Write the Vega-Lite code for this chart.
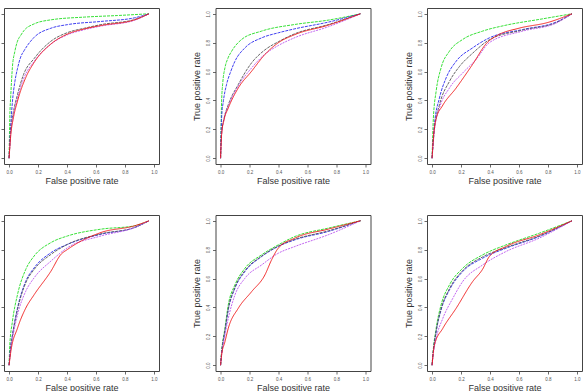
{
 "$schema": "https://vega.github.io/schema/vega-lite/v6.json",
 "padding": {"left": -20, "top": 7, "right": 0, "bottom": 0},
 "autosize": {"type": "pad"},
 "background": "white",
 "data": {"values": [
  {"p":1,"s":"g","x":0,"y":0},{"p":1,"s":"g","x":0.005,"y":0.28},{"p":1,"s":"g","x":0.012,"y":0.44},{"p":1,"s":"g","x":0.023,"y":0.63},{"p":1,"s":"g","x":0.04,"y":0.74},{"p":1,"s":"g","x":0.058,"y":0.81},{"p":1,"s":"g","x":0.08,"y":0.85},{"p":1,"s":"g","x":0.104,"y":0.885},{"p":1,"s":"g","x":0.173,"y":0.93},{"p":1,"s":"g","x":0.289,"y":0.958},{"p":1,"s":"g","x":0.52,"y":0.977},{"p":1,"s":"g","x":0.75,"y":0.988},{"p":1,"s":"g","x":0.966,"y":1},
  {"p":1,"s":"b","x":0,"y":0},{"p":1,"s":"b","x":0.01,"y":0.2},{"p":1,"s":"b","x":0.023,"y":0.39},{"p":1,"s":"b","x":0.04,"y":0.53},{"p":1,"s":"b","x":0.058,"y":0.62},{"p":1,"s":"b","x":0.08,"y":0.7},{"p":1,"s":"b","x":0.104,"y":0.745},{"p":1,"s":"b","x":0.173,"y":0.837},{"p":1,"s":"b","x":0.289,"y":0.9},{"p":1,"s":"b","x":0.404,"y":0.925},{"p":1,"s":"b","x":0.635,"y":0.947},{"p":1,"s":"b","x":0.866,"y":0.972},{"p":1,"s":"b","x":0.966,"y":1},
  {"p":1,"s":"k","x":0,"y":0},{"p":1,"s":"k","x":0.012,"y":0.2},{"p":1,"s":"k","x":0.03,"y":0.32},{"p":1,"s":"k","x":0.058,"y":0.44},{"p":1,"s":"k","x":0.1,"y":0.58},{"p":1,"s":"k","x":0.173,"y":0.69},{"p":1,"s":"k","x":0.289,"y":0.81},{"p":1,"s":"k","x":0.404,"y":0.87},{"p":1,"s":"k","x":0.52,"y":0.9},{"p":1,"s":"k","x":0.635,"y":0.925},{"p":1,"s":"k","x":0.866,"y":0.96},{"p":1,"s":"k","x":0.966,"y":1},
  {"p":1,"s":"v","x":0,"y":0},{"p":1,"s":"v","x":0.012,"y":0.18},{"p":1,"s":"v","x":0.03,"y":0.3},{"p":1,"s":"v","x":0.058,"y":0.415},{"p":1,"s":"v","x":0.1,"y":0.55},{"p":1,"s":"v","x":0.173,"y":0.67},{"p":1,"s":"v","x":0.289,"y":0.79},{"p":1,"s":"v","x":0.404,"y":0.855},{"p":1,"s":"v","x":0.52,"y":0.89},{"p":1,"s":"v","x":0.635,"y":0.915},{"p":1,"s":"v","x":0.866,"y":0.955},{"p":1,"s":"v","x":0.966,"y":1},
  {"p":1,"s":"r","x":0,"y":0},{"p":1,"s":"r","x":0.012,"y":0.163},{"p":1,"s":"r","x":0.03,"y":0.28},{"p":1,"s":"r","x":0.058,"y":0.395},{"p":1,"s":"r","x":0.115,"y":0.558},{"p":1,"s":"r","x":0.173,"y":0.663},{"p":1,"s":"r","x":0.289,"y":0.791},{"p":1,"s":"r","x":0.404,"y":0.86},{"p":1,"s":"r","x":0.52,"y":0.895},{"p":1,"s":"r","x":0.635,"y":0.919},{"p":1,"s":"r","x":0.866,"y":0.958},{"p":1,"s":"r","x":0.966,"y":1},

  {"p":2,"s":"g","x":0,"y":0},{"p":2,"s":"g","x":0.007,"y":0.39},{"p":2,"s":"g","x":0.015,"y":0.52},{"p":2,"s":"g","x":0.03,"y":0.625},{"p":2,"s":"g","x":0.05,"y":0.69},{"p":2,"s":"g","x":0.076,"y":0.74},{"p":2,"s":"g","x":0.145,"y":0.822},{"p":2,"s":"g","x":0.283,"y":0.88},{"p":2,"s":"g","x":0.513,"y":0.926},{"p":2,"s":"g","x":0.743,"y":0.956},{"p":2,"s":"g","x":0.966,"y":1},
  {"p":2,"s":"b","x":0,"y":0},{"p":2,"s":"b","x":0.007,"y":0.278},{"p":2,"s":"b","x":0.02,"y":0.4},{"p":2,"s":"b","x":0.041,"y":0.509},{"p":2,"s":"b","x":0.07,"y":0.6},{"p":2,"s":"b","x":0.099,"y":0.671},{"p":2,"s":"b","x":0.168,"y":0.764},{"p":2,"s":"b","x":0.283,"y":0.833},{"p":2,"s":"b","x":0.398,"y":0.868},{"p":2,"s":"b","x":0.513,"y":0.896},{"p":2,"s":"b","x":0.743,"y":0.942},{"p":2,"s":"b","x":0.966,"y":1},
  {"p":2,"s":"k","x":0,"y":0},{"p":2,"s":"k","x":0.007,"y":0.17},{"p":2,"s":"k","x":0.025,"y":0.28},{"p":2,"s":"k","x":0.053,"y":0.37},{"p":2,"s":"k","x":0.122,"y":0.51},{"p":2,"s":"k","x":0.214,"y":0.66},{"p":2,"s":"k","x":0.306,"y":0.75},{"p":2,"s":"k","x":0.398,"y":0.806},{"p":2,"s":"k","x":0.513,"y":0.862},{"p":2,"s":"k","x":0.743,"y":0.925},{"p":2,"s":"k","x":0.966,"y":1},
  {"p":2,"s":"v","x":0,"y":0},{"p":2,"s":"v","x":0.007,"y":0.165},{"p":2,"s":"v","x":0.025,"y":0.275},{"p":2,"s":"v","x":0.053,"y":0.36},{"p":2,"s":"v","x":0.122,"y":0.5},{"p":2,"s":"v","x":0.214,"y":0.625},{"p":2,"s":"v","x":0.306,"y":0.72},{"p":2,"s":"v","x":0.398,"y":0.78},{"p":2,"s":"v","x":0.513,"y":0.835},{"p":2,"s":"v","x":0.743,"y":0.91},{"p":2,"s":"v","x":0.966,"y":1},
  {"p":2,"s":"r","x":0,"y":0},{"p":2,"s":"r","x":0.007,"y":0.162},{"p":2,"s":"r","x":0.025,"y":0.27},{"p":2,"s":"r","x":0.053,"y":0.347},{"p":2,"s":"r","x":0.122,"y":0.486},{"p":2,"s":"r","x":0.214,"y":0.602},{"p":2,"s":"r","x":0.306,"y":0.718},{"p":2,"s":"r","x":0.398,"y":0.799},{"p":2,"s":"r","x":0.513,"y":0.856},{"p":2,"s":"r","x":0.743,"y":0.921},{"p":2,"s":"r","x":0.966,"y":1},

  {"p":3,"s":"g","x":0,"y":0},{"p":3,"s":"g","x":0.009,"y":0.278},{"p":3,"s":"g","x":0.028,"y":0.463},{"p":3,"s":"g","x":0.062,"y":0.625},{"p":3,"s":"g","x":0.12,"y":0.741},{"p":3,"s":"g","x":0.211,"y":0.822},{"p":3,"s":"g","x":0.349,"y":0.88},{"p":3,"s":"g","x":0.51,"y":0.921},{"p":3,"s":"g","x":0.74,"y":0.961},{"p":3,"s":"g","x":0.966,"y":1},
  {"p":3,"s":"b","x":0,"y":0},{"p":3,"s":"b","x":0.016,"y":0.231},{"p":3,"s":"b","x":0.051,"y":0.417},{"p":3,"s":"b","x":0.097,"y":0.556},{"p":3,"s":"b","x":0.166,"y":0.671},{"p":3,"s":"b","x":0.28,"y":0.764},{"p":3,"s":"b","x":0.395,"y":0.833},{"p":3,"s":"b","x":0.625,"y":0.891},{"p":3,"s":"b","x":0.855,"y":0.942},{"p":3,"s":"b","x":0.966,"y":1},
  {"p":3,"s":"k","x":0,"y":0},{"p":3,"s":"k","x":0.016,"y":0.2},{"p":3,"s":"k","x":0.051,"y":0.37},{"p":3,"s":"k","x":0.12,"y":0.532},{"p":3,"s":"k","x":0.189,"y":0.635},{"p":3,"s":"k","x":0.28,"y":0.727},{"p":3,"s":"k","x":0.395,"y":0.82},{"p":3,"s":"k","x":0.625,"y":0.887},{"p":3,"s":"k","x":0.855,"y":0.938},{"p":3,"s":"k","x":0.966,"y":1},
  {"p":3,"s":"v","x":0,"y":0},{"p":3,"s":"v","x":0.016,"y":0.19},{"p":3,"s":"v","x":0.051,"y":0.347},{"p":3,"s":"v","x":0.12,"y":0.486},{"p":3,"s":"v","x":0.211,"y":0.59},{"p":3,"s":"v","x":0.303,"y":0.683},{"p":3,"s":"v","x":0.395,"y":0.8},{"p":3,"s":"v","x":0.625,"y":0.88},{"p":3,"s":"v","x":0.855,"y":0.935},{"p":3,"s":"v","x":0.966,"y":1},
  {"p":3,"s":"r","x":0,"y":0},{"p":3,"s":"r","x":0.01,"y":0.15},{"p":3,"s":"r","x":0.03,"y":0.28},{"p":3,"s":"r","x":0.07,"y":0.36},{"p":3,"s":"r","x":0.166,"y":0.486},{"p":3,"s":"r","x":0.28,"y":0.65},{"p":3,"s":"r","x":0.38,"y":0.8},{"p":3,"s":"r","x":0.45,"y":0.85},{"p":3,"s":"r","x":0.6,"y":0.9},{"p":3,"s":"r","x":0.8,"y":0.94},{"p":3,"s":"r","x":0.966,"y":1},

  {"p":4,"s":"g","x":0,"y":0},{"p":4,"s":"g","x":0.005,"y":0.14},{"p":4,"s":"g","x":0.023,"y":0.302},{"p":4,"s":"g","x":0.058,"y":0.488},{"p":4,"s":"g","x":0.115,"y":0.663},{"p":4,"s":"g","x":0.173,"y":0.756},{"p":4,"s":"g","x":0.289,"y":0.849},{"p":4,"s":"g","x":0.404,"y":0.895},{"p":4,"s":"g","x":0.635,"y":0.942},{"p":4,"s":"g","x":0.866,"y":0.965},{"p":4,"s":"g","x":0.966,"y":1},
  {"p":4,"s":"b","x":0,"y":0},{"p":4,"s":"b","x":0.01,"y":0.12},{"p":4,"s":"b","x":0.023,"y":0.209},{"p":4,"s":"b","x":0.058,"y":0.395},{"p":4,"s":"b","x":0.115,"y":0.581},{"p":4,"s":"b","x":0.173,"y":0.674},{"p":4,"s":"b","x":0.289,"y":0.779},{"p":4,"s":"b","x":0.404,"y":0.837},{"p":4,"s":"b","x":0.635,"y":0.907},{"p":4,"s":"b","x":0.866,"y":0.953},{"p":4,"s":"b","x":0.966,"y":1},
  {"p":4,"s":"k","x":0,"y":0},{"p":4,"s":"k","x":0.01,"y":0.11},{"p":4,"s":"k","x":0.023,"y":0.2},{"p":4,"s":"k","x":0.058,"y":0.384},{"p":4,"s":"k","x":0.115,"y":0.57},{"p":4,"s":"k","x":0.173,"y":0.663},{"p":4,"s":"k","x":0.289,"y":0.767},{"p":4,"s":"k","x":0.404,"y":0.837},{"p":4,"s":"k","x":0.635,"y":0.91},{"p":4,"s":"k","x":0.866,"y":0.953},{"p":4,"s":"k","x":0.966,"y":1},
  {"p":4,"s":"v","x":0,"y":0},{"p":4,"s":"v","x":0.01,"y":0.1},{"p":4,"s":"v","x":0.023,"y":0.18},{"p":4,"s":"v","x":0.058,"y":0.349},{"p":4,"s":"v","x":0.115,"y":0.512},{"p":4,"s":"v","x":0.173,"y":0.605},{"p":4,"s":"v","x":0.289,"y":0.721},{"p":4,"s":"v","x":0.404,"y":0.814},{"p":4,"s":"v","x":0.635,"y":0.895},{"p":4,"s":"v","x":0.866,"y":0.953},{"p":4,"s":"v","x":0.966,"y":1},
  {"p":4,"s":"r","x":0,"y":0},{"p":4,"s":"r","x":0.012,"y":0.093},{"p":4,"s":"r","x":0.058,"y":0.256},{"p":4,"s":"r","x":0.115,"y":0.395},{"p":4,"s":"r","x":0.173,"y":0.488},{"p":4,"s":"r","x":0.289,"y":0.651},{"p":4,"s":"r","x":0.358,"y":0.767},{"p":4,"s":"r","x":0.404,"y":0.802},{"p":4,"s":"r","x":0.635,"y":0.919},{"p":4,"s":"r","x":0.866,"y":0.965},{"p":4,"s":"r","x":0.966,"y":1},

  {"p":5,"s":"g","x":0,"y":0},{"p":5,"s":"g","x":0.007,"y":0.093},{"p":5,"s":"g","x":0.03,"y":0.255},{"p":5,"s":"g","x":0.053,"y":0.417},{"p":5,"s":"g","x":0.099,"y":0.556},{"p":5,"s":"g","x":0.168,"y":0.671},{"p":5,"s":"g","x":0.283,"y":0.764},{"p":5,"s":"g","x":0.398,"y":0.833},{"p":5,"s":"g","x":0.513,"y":0.891},{"p":5,"s":"g","x":0.743,"y":0.949},{"p":5,"s":"g","x":0.966,"y":1},
  {"p":5,"s":"b","x":0,"y":0},{"p":5,"s":"b","x":0.007,"y":0.08},{"p":5,"s":"b","x":0.03,"y":0.231},{"p":5,"s":"b","x":0.053,"y":0.382},{"p":5,"s":"b","x":0.099,"y":0.532},{"p":5,"s":"b","x":0.168,"y":0.648},{"p":5,"s":"b","x":0.283,"y":0.752},{"p":5,"s":"b","x":0.398,"y":0.822},{"p":5,"s":"b","x":0.513,"y":0.868},{"p":5,"s":"b","x":0.743,"y":0.926},{"p":5,"s":"b","x":0.966,"y":1},
  {"p":5,"s":"k","x":0,"y":0},{"p":5,"s":"k","x":0.007,"y":0.085},{"p":5,"s":"k","x":0.03,"y":0.24},{"p":5,"s":"k","x":0.053,"y":0.39},{"p":5,"s":"k","x":0.099,"y":0.54},{"p":5,"s":"k","x":0.168,"y":0.655},{"p":5,"s":"k","x":0.283,"y":0.755},{"p":5,"s":"k","x":0.398,"y":0.825},{"p":5,"s":"k","x":0.513,"y":0.872},{"p":5,"s":"k","x":0.743,"y":0.93},{"p":5,"s":"k","x":0.966,"y":1},
  {"p":5,"s":"v","x":0,"y":0},{"p":5,"s":"v","x":0.007,"y":0.07},{"p":5,"s":"v","x":0.03,"y":0.209},{"p":5,"s":"v","x":0.053,"y":0.324},{"p":5,"s":"v","x":0.099,"y":0.486},{"p":5,"s":"v","x":0.168,"y":0.602},{"p":5,"s":"v","x":0.283,"y":0.694},{"p":5,"s":"v","x":0.398,"y":0.775},{"p":5,"s":"v","x":0.513,"y":0.822},{"p":5,"s":"v","x":0.743,"y":0.903},{"p":5,"s":"v","x":0.966,"y":1},
  {"p":5,"s":"r","x":0,"y":0},{"p":5,"s":"r","x":0.007,"y":0.069},{"p":5,"s":"r","x":0.03,"y":0.162},{"p":5,"s":"r","x":0.053,"y":0.255},{"p":5,"s":"r","x":0.122,"y":0.394},{"p":5,"s":"r","x":0.214,"y":0.509},{"p":5,"s":"r","x":0.306,"y":0.625},{"p":5,"s":"r","x":0.352,"y":0.729},{"p":5,"s":"r","x":0.398,"y":0.81},{"p":5,"s":"r","x":0.513,"y":0.88},{"p":5,"s":"r","x":0.743,"y":0.942},{"p":5,"s":"r","x":0.966,"y":1},

  {"p":6,"s":"g","x":0,"y":0},{"p":6,"s":"g","x":0.005,"y":0.069},{"p":6,"s":"g","x":0.028,"y":0.255},{"p":6,"s":"g","x":0.062,"y":0.417},{"p":6,"s":"g","x":0.12,"y":0.556},{"p":6,"s":"g","x":0.211,"y":0.671},{"p":6,"s":"g","x":0.349,"y":0.764},{"p":6,"s":"g","x":0.51,"y":0.833},{"p":6,"s":"g","x":0.74,"y":0.914},{"p":6,"s":"g","x":0.966,"y":1},
  {"p":6,"s":"b","x":0,"y":0},{"p":6,"s":"b","x":0.005,"y":0.06},{"p":6,"s":"b","x":0.028,"y":0.231},{"p":6,"s":"b","x":0.062,"y":0.382},{"p":6,"s":"b","x":0.12,"y":0.521},{"p":6,"s":"b","x":0.211,"y":0.648},{"p":6,"s":"b","x":0.349,"y":0.741},{"p":6,"s":"b","x":0.51,"y":0.81},{"p":6,"s":"b","x":0.74,"y":0.891},{"p":6,"s":"b","x":0.966,"y":1},
  {"p":6,"s":"k","x":0,"y":0},{"p":6,"s":"k","x":0.005,"y":0.06},{"p":6,"s":"k","x":0.028,"y":0.235},{"p":6,"s":"k","x":0.062,"y":0.39},{"p":6,"s":"k","x":0.12,"y":0.53},{"p":6,"s":"k","x":0.211,"y":0.655},{"p":6,"s":"k","x":0.349,"y":0.75},{"p":6,"s":"k","x":0.51,"y":0.815},{"p":6,"s":"k","x":0.74,"y":0.895},{"p":6,"s":"k","x":0.966,"y":1},
  {"p":6,"s":"v","x":0,"y":0},{"p":6,"s":"v","x":0.005,"y":0.05},{"p":6,"s":"v","x":0.028,"y":0.185},{"p":6,"s":"v","x":0.074,"y":0.324},{"p":6,"s":"v","x":0.143,"y":0.463},{"p":6,"s":"v","x":0.211,"y":0.579},{"p":6,"s":"v","x":0.349,"y":0.694},{"p":6,"s":"v","x":0.51,"y":0.787},{"p":6,"s":"v","x":0.74,"y":0.88},{"p":6,"s":"v","x":0.966,"y":1},
  {"p":6,"s":"r","x":0,"y":0},{"p":6,"s":"r","x":0.016,"y":0.139},{"p":6,"s":"r","x":0.074,"y":0.255},{"p":6,"s":"r","x":0.166,"y":0.394},{"p":6,"s":"r","x":0.28,"y":0.579},{"p":6,"s":"r","x":0.349,"y":0.665},{"p":6,"s":"r","x":0.395,"y":0.752},{"p":6,"s":"r","x":0.51,"y":0.822},{"p":6,"s":"r","x":0.74,"y":0.903},{"p":6,"s":"r","x":0.966,"y":1}
 ]},
 "columns": 3,
 "spacing": {"row": 28, "column": 31.5},
 "resolve": {"scale": {"x": "independent", "y": "independent"}, "axis": {"x": "independent", "y": "independent"}},
 "concat": [
  {"width": 155, "height": 156, "transform": [{"filter": "datum.p == 1"}], "mark": {"type": "line", "strokeWidth": 0.9, "interpolate": "monotone"},
   "encoding": {
    "x": {"field": "x", "type": "quantitative", "scale": {"domain": [-0.035, 1.035], "nice": false, "zero": false}, "axis": {"title": "False positive rate"}},
    "y": {"field": "y", "type": "quantitative", "scale": {"domain": [-0.04, 1.04], "nice": false, "zero": false}, "axis": {"title": "True positive rate"}},
    "color": {"field": "s", "type": "nominal", "scale": {"domain": ["g", "b", "k", "v", "r"], "range": ["#22dd22", "#2a2aee", "#555555", "#bb55ee", "#ee1111"]}, "legend": null},
    "strokeDash": {"field": "s", "type": "nominal", "scale": {"domain": ["g", "b", "k", "v", "r"], "range": [[3, 1], [3, 1], [3, 1], [2, 1], [1, 0]]}, "legend": null}}},
  {"width": 155, "height": 156, "transform": [{"filter": "datum.p == 2"}], "mark": {"type": "line", "strokeWidth": 0.9, "interpolate": "monotone"},
   "encoding": {
    "x": {"field": "x", "type": "quantitative", "scale": {"domain": [-0.035, 1.035], "nice": false, "zero": false}, "axis": {"title": "False positive rate"}},
    "y": {"field": "y", "type": "quantitative", "scale": {"domain": [-0.04, 1.04], "nice": false, "zero": false}, "axis": {"title": "True positive rate"}},
    "color": {"field": "s", "type": "nominal", "scale": {"domain": ["g", "b", "k", "v", "r"], "range": ["#22dd22", "#2a2aee", "#555555", "#bb55ee", "#ee1111"]}, "legend": null},
    "strokeDash": {"field": "s", "type": "nominal", "scale": {"domain": ["g", "b", "k", "v", "r"], "range": [[3, 1], [3, 1], [3, 1], [2, 1], [1, 0]]}, "legend": null}}},
  {"width": 155, "height": 156, "transform": [{"filter": "datum.p == 3"}], "mark": {"type": "line", "strokeWidth": 0.9, "interpolate": "monotone"},
   "encoding": {
    "x": {"field": "x", "type": "quantitative", "scale": {"domain": [-0.035, 1.035], "nice": false, "zero": false}, "axis": {"title": "False positive rate"}},
    "y": {"field": "y", "type": "quantitative", "scale": {"domain": [-0.04, 1.04], "nice": false, "zero": false}, "axis": {"title": "True positive rate"}},
    "color": {"field": "s", "type": "nominal", "scale": {"domain": ["g", "b", "k", "v", "r"], "range": ["#22dd22", "#2a2aee", "#555555", "#bb55ee", "#ee1111"]}, "legend": null},
    "strokeDash": {"field": "s", "type": "nominal", "scale": {"domain": ["g", "b", "k", "v", "r"], "range": [[3, 1], [3, 1], [3, 1], [2, 1], [1, 0]]}, "legend": null}}},
  {"width": 155, "height": 156, "transform": [{"filter": "datum.p == 4"}], "mark": {"type": "line", "strokeWidth": 0.9, "interpolate": "monotone"},
   "encoding": {
    "x": {"field": "x", "type": "quantitative", "scale": {"domain": [-0.035, 1.035], "nice": false, "zero": false}, "axis": {"title": "False positive rate"}},
    "y": {"field": "y", "type": "quantitative", "scale": {"domain": [-0.04, 1.04], "nice": false, "zero": false}, "axis": {"title": "True positive rate"}},
    "color": {"field": "s", "type": "nominal", "scale": {"domain": ["g", "b", "k", "v", "r"], "range": ["#22dd22", "#2a2aee", "#555555", "#bb55ee", "#ee1111"]}, "legend": null},
    "strokeDash": {"field": "s", "type": "nominal", "scale": {"domain": ["g", "b", "k", "v", "r"], "range": [[3, 1], [3, 1], [3, 1], [2, 1], [1, 0]]}, "legend": null}}},
  {"width": 155, "height": 156, "transform": [{"filter": "datum.p == 5"}], "mark": {"type": "line", "strokeWidth": 0.9, "interpolate": "monotone"},
   "encoding": {
    "x": {"field": "x", "type": "quantitative", "scale": {"domain": [-0.035, 1.035], "nice": false, "zero": false}, "axis": {"title": "False positive rate"}},
    "y": {"field": "y", "type": "quantitative", "scale": {"domain": [-0.04, 1.04], "nice": false, "zero": false}, "axis": {"title": "True positive rate"}},
    "color": {"field": "s", "type": "nominal", "scale": {"domain": ["g", "b", "k", "v", "r"], "range": ["#22dd22", "#2a2aee", "#555555", "#bb55ee", "#ee1111"]}, "legend": null},
    "strokeDash": {"field": "s", "type": "nominal", "scale": {"domain": ["g", "b", "k", "v", "r"], "range": [[3, 1], [3, 1], [3, 1], [2, 1], [1, 0]]}, "legend": null}}},
  {"width": 155, "height": 156, "transform": [{"filter": "datum.p == 6"}], "mark": {"type": "line", "strokeWidth": 0.9, "interpolate": "monotone"},
   "encoding": {
    "x": {"field": "x", "type": "quantitative", "scale": {"domain": [-0.035, 1.035], "nice": false, "zero": false}, "axis": {"title": "False positive rate"}},
    "y": {"field": "y", "type": "quantitative", "scale": {"domain": [-0.04, 1.04], "nice": false, "zero": false}, "axis": {"title": "True positive rate"}},
    "color": {"field": "s", "type": "nominal", "scale": {"domain": ["g", "b", "k", "v", "r"], "range": ["#22dd22", "#2a2aee", "#555555", "#bb55ee", "#ee1111"]}, "legend": null},
    "strokeDash": {"field": "s", "type": "nominal", "scale": {"domain": ["g", "b", "k", "v", "r"], "range": [[3, 1], [3, 1], [3, 1], [2, 1], [1, 0]]}, "legend": null}}}
 ],
 "config": {
  "view": {"stroke": "#444444", "strokeWidth": 1},
  "axis": {"domain": false, "grid": false, "tickSize": 3, "tickColor": "#444444", "tickWidth": 0.8, "labelFontSize": 4.5, "labelColor": "#555555", "labelPadding": 2, "labelFont": "Liberation Sans", "titleFont": "Liberation Sans", "titleFontSize": 9, "titleFontWeight": "normal", "titleColor": "#333333", "values": [0, 0.2, 0.4, 0.6, 0.8, 1], "format": ".1f", "labelFlush": false, "labelOverlap": false},
  "axisX": {"titlePadding": 3},
  "axisY": {"titlePadding": 4, "labelAngle": 270, "labelAlign": "center", "labelBaseline": "bottom"}
 }
}
